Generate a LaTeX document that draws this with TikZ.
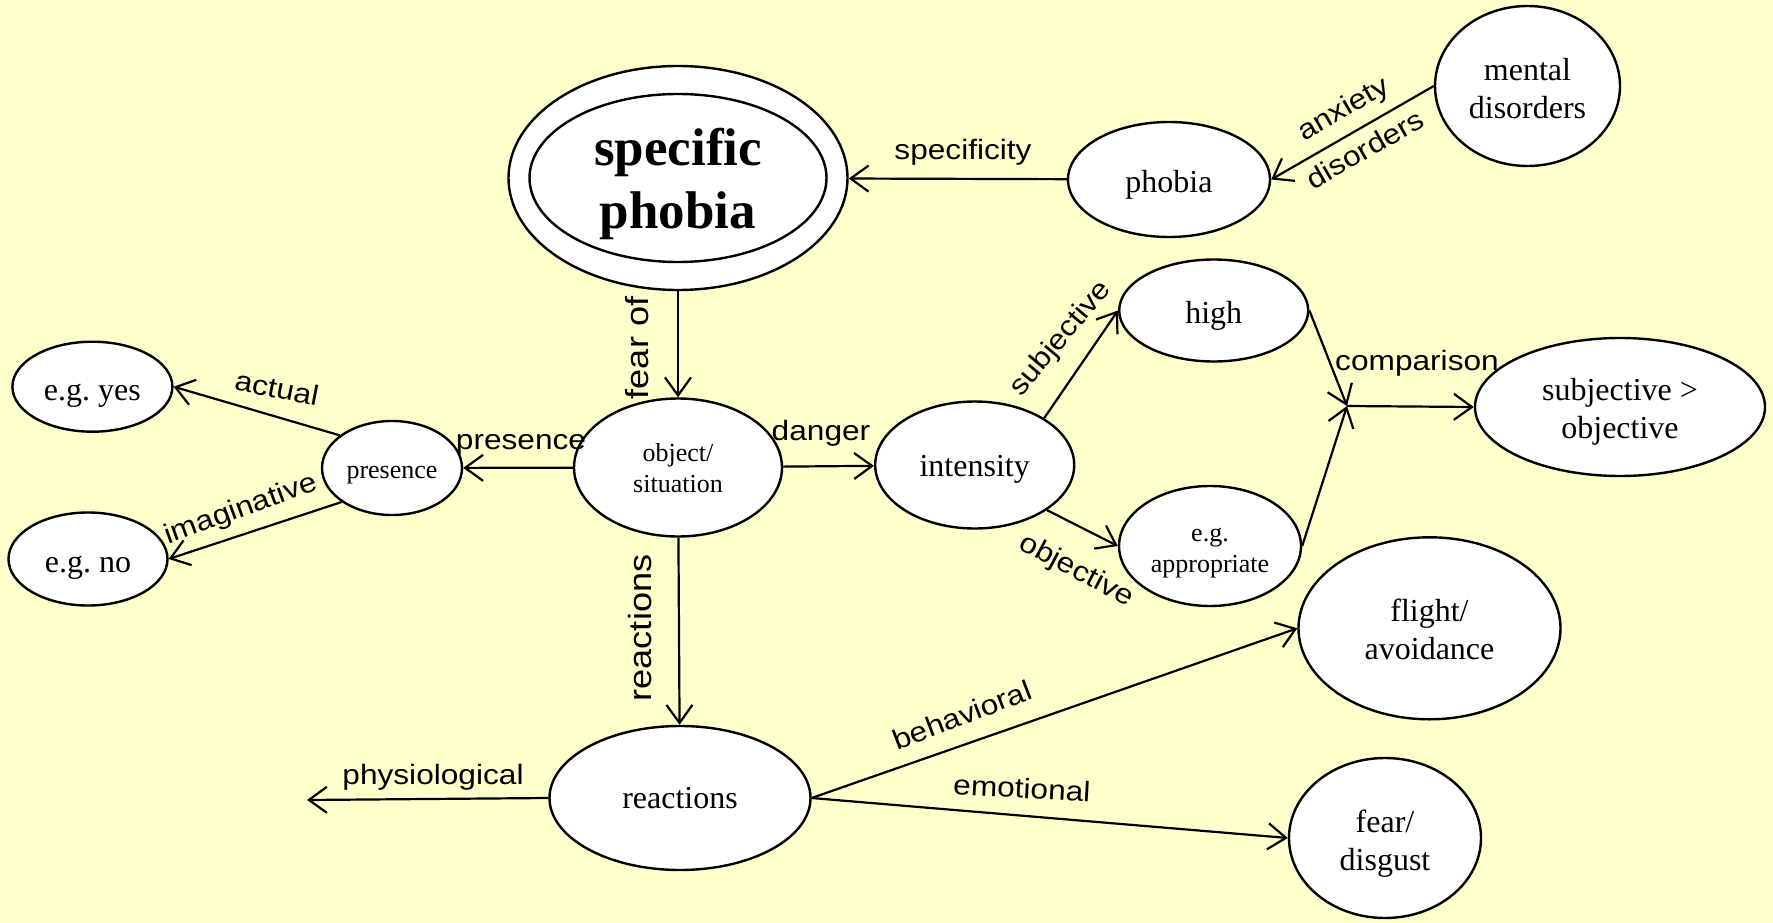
\documentclass[tikz,border=0pt]{standalone}
\usepackage{fontspec}
\usepackage{graphicx}
\setmainfont{Liberation Serif}
\newfontfamily\labfam{Liberation Sans}
\usetikzlibrary{shapes.geometric,arrows.meta}
\definecolor{bgyellow}{HTML}{FFFFCC}
\frenchspacing
\newcommand\lbl[1]{\scalebox{1.13}[1]{#1}}
% lower the text inside a bubble (declared depth reduced by twice the shift)
\newcommand\tx[2][10pt]{\raisebox{0pt}[\height][\dimexpr\depth-#1\relax]{\begin{tabular}{@{}c@{}}#2\end{tabular}}}
\tikzset{
  bub/.style={ellipse, draw=black, fill=white, line width=2.4pt, inner sep=0pt,
              font=\fontsize{32}{38}\selectfont},
  smalltext/.style={font=\fontsize{26}{31}\selectfont},
  lab/.style={font=\labfam\fontsize{28}{32}\selectfont, inner sep=0pt},
  biglab/.style={font=\labfam\fontsize{32}{36}\selectfont, inner sep=0pt},
  conn/.style={line width=2.2pt, -{Straight Barb[length=18pt,width=26pt]}},
}
\begin{document}
\begin{tikzpicture}[x=1pt,y=-1pt]
\fill[bgyellow] (0,0) rectangle (1773,923);
\useasboundingbox (0,0) rectangle (1773,923);

% nodes
\node[bub, minimum width=339pt, minimum height=224pt] (sp) at (678,178) {};
\node[bub, minimum width=297pt, minimum height=168pt, font=\fontsize{53}{63}\selectfont\bfseries] (spin) at (678,178) {\tx[13pt]{specific\\phobia}};
\node[bub, minimum width=202pt, minimum height=115pt] (phobia) at (1169,179.5) {\tx{phobia}};
\node[bub, minimum width=185pt, minimum height=160pt] (mental) at (1527.5,86) {\tx[11pt]{mental\\disorders}};
\node[bub, smalltext, minimum width=208pt, minimum height=138pt] (obj) at (678,467.5) {\tx[6pt]{object/\\situation}};
\node[bub, smalltext, minimum width=140pt, minimum height=94pt] (pres) at (392,468) {\tx[12pt]{presence}};
\node[bub, minimum width=160pt, minimum height=90pt] (yes) at (92.4,386.7) {\tx[12pt]{e.g. yes}};
\node[bub, minimum width=159pt, minimum height=93pt] (no) at (88,559) {\tx[12pt]{e.g. no}};
\node[bub, minimum width=199pt, minimum height=127pt] (int) at (974.7,465) {\tx[7pt]{intensity}};
\node[bub, minimum width=189pt, minimum height=102pt] (high) at (1213.7,310.5) {\tx{high}};
\node[bub, smalltext, minimum width=182pt, minimum height=120pt] (appr) at (1210,546) {\tx{e.g.\\appropriate}};
\node[bub, minimum width=290pt, minimum height=138pt] (subj) at (1620,407) {\tx{subjective >\\objective}};
\node[bub, minimum width=262pt, minimum height=182pt] (flight) at (1429.5,628.3) {\tx[10pt]{flight/\\avoidance}};
\node[bub, minimum width=192pt, minimum height=160pt] (fear) at (1385,838) {\tx[12pt]{fear/\\disgust}};
\node[bub, minimum width=261pt, minimum height=144pt] (react) at (680,798) {\tx[6pt]{reactions}};
\coordinate (junc) at (1347,406);
\coordinate (phys) at (307,800);

% connectors
\draw[conn] (phobia) -- (sp);
\draw[conn] (mental.west) -- (phobia.east);
\draw[conn] (sp) -- (obj);
\draw[conn] (obj) -- (pres);
\draw[conn] (pres.148) -- (yes.east);
\draw[conn] (pres.214) -- (no.east);
\draw[conn] (obj) -- (int);
\draw[conn] (int.34) -- (high.west);
\draw[conn] (int.-32) -- (appr.west);
\draw[conn] (high.east) -- (junc);
\draw[conn] (appr.east) -- (junc);
\draw[conn] (junc) -- (subj.west);
\draw[conn] (obj) -- (react);
\draw[conn] (react.east) -- (flight.west);
\draw[conn] (react.east) -- (fear.west);
\draw[conn] (react.west) -- (phys);

% labels
\node[lab] (l1) at (963,152) {\lbl{specificity}};
\node[lab, rotate=30] (l2) at (1344,110) {\lbl{anxiety}};
\node[lab, rotate=30] (l3) at (1365,149) {\lbl{disorders}};
\node[biglab, rotate=90] (l4) at (637,348) {\lbl{fear of}};
\node[lab] (l5) at (521,445) {\lbl{presence}};
\node[lab, rotate=-11] (l6) at (277,388) {\lbl{actual}};
\node[lab, rotate=20] (l7) at (241,510) {\lbl{imaginative}};
\node[lab] (l8) at (821,433) {\lbl{danger}};
\node[lab, rotate=50] (l9) at (1061,339) {\lbl{subjective}};
\node[lab, rotate=-28] (l10) at (1076,571) {\lbl{objective}};
\node[lab] (l11) at (1417,363) {\lbl{comparison}};
\node[biglab, rotate=90] (l12) at (640,628) {\lbl{reactions}};
\node[lab, rotate=21] (l13) at (962,715) {\lbl{behavioral}};
\node[lab, rotate=-3] (l14) at (1022,788) {\lbl{emotional}};
\node[lab] (l15) at (433,777) {\lbl{physiological}};
\end{tikzpicture}
\end{document}
